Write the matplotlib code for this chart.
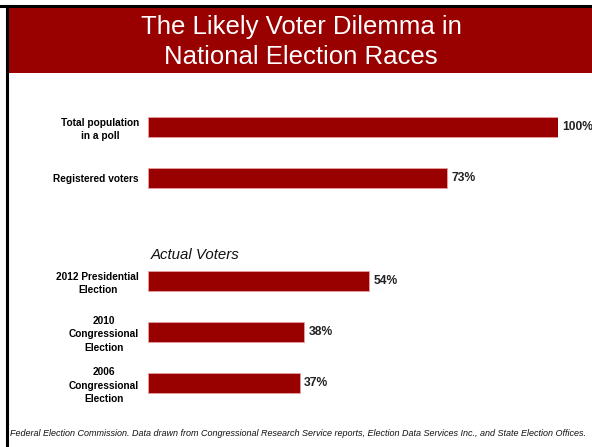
#!/usr/bin/env python3
"""Horizontal bar chart: the likely voter dilemma in national election races."""

import matplotlib
matplotlib.use("Agg")
import matplotlib.pyplot as plt
from matplotlib.lines import Line2D
from matplotlib.patches import Rectangle

CATEGORIES = [
    "Total population\nin a poll",
    "Registered voters",
    "2012 Presidential\nElection",
    "2010\nCongressional\nElection",
    "2006\nCongressional\nElection",
]
VALUES = [100, 73, 54, 38, 37]
VALUE_LABELS = ["100%", "73%", "54%", "38%", "37%"]

TITLE = "The Likely Voter Dilemma in\nNational Election Races"
GROUP_LABEL = "Actual Voters"
SOURCE = ("Federal Election Commission. Data drawn from Congressional Research Service "
          "reports, Election Data Services Inc., and State Election Offices.")

BAR_COLOR = "#990000"
W, H = 592, 447

plt.rcParams["font.family"] = ["Liberation Sans", "DejaVu Sans"]

fig = plt.figure(figsize=(W / 100, H / 100), dpi=100)

# frame lines (top and left) and title banner
fig.add_artist(Line2D([0, 1], [1 - 6 / H, 1 - 6 / H], color="black", lw=2.2,
                      transform=fig.transFigure))
fig.add_artist(Line2D([6.5 / W, 6.5 / W], [0, 1 - 6 / H], color="black", lw=2.2,
                      transform=fig.transFigure))
fig.add_artist(Rectangle((8 / W, 1 - 73 / H), 1 - 8 / W, 65 / H, color=BAR_COLOR,
                         transform=fig.transFigure, lw=0))
fig.text(301 / W, 1 - 42 / H, TITLE, ha="center", va="center", color="white",
         fontsize=18.5, linespacing=1.28)

# positions: first two bars, then a gap, then the three "actual voters" bars
positions = [0, 1, 3, 4, 5]

left_px, right_px = 148, 558
top_px, bot_px = 127 - 25.6, 383 + 25.6
ax = fig.add_axes([left_px / W, 1 - bot_px / H,
                   (right_px - left_px) / W, (bot_px - top_px) / H])

ax.barh(positions, VALUES, height=0.39, color=BAR_COLOR, edgecolor="#e8a0a0",
        linewidth=0.6)
for y, v, lab in zip(positions, VALUES, VALUE_LABELS):
    ax.text(v + 1.1, y, lab, ha="left", va="center", fontsize=8.7,
            fontweight="bold", color="#222222", clip_on=False)

ax.text(0.6, 2.5, GROUP_LABEL, ha="left", va="center", fontsize=10.8,
        style="italic", color="#111111")

ax.set_xlim(0, 100)
ax.set_ylim(5.5, -0.5)
ax.set_yticks(positions)
ax.set_yticklabels(CATEGORIES, fontsize=7.3, fontweight="bold",
                   multialignment="center", linespacing=1.4)
ax.tick_params(axis="y", length=0, pad=6.5)
ax.set_xticks([])
for s in ax.spines.values():
    s.set_visible(False)

fig.text(10 / W, 1 - 434 / H, SOURCE, ha="left", va="center", fontsize=6.5,
         style="italic", color="#111111")

fig.savefig("out.png", dpi=100)
